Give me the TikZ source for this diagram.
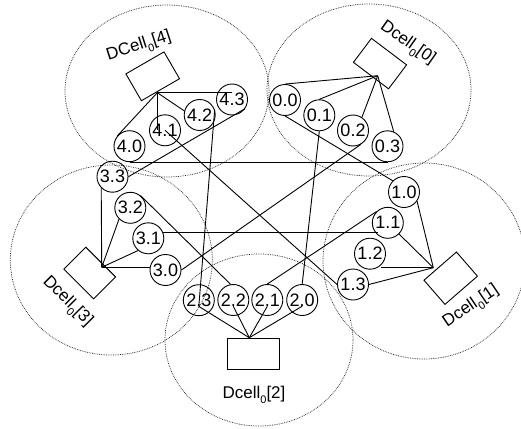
\documentclass[tikz,border=0pt]{standalone}
\usepackage{fontspec}
\setmainfont{Liberation Sans}
\definecolor{cellgray}{RGB}{40, 40, 40}
\newcommand{\cellsub}[1]{\raisebox{-5pt}{\fontsize{11pt}{11pt}\selectfont #1}}

\begin{document}
\begin{tikzpicture}[x=10pt, y=-10pt, line width=0.9pt,
    server/.style={circle, draw, minimum size=31pt, inner sep=0pt, font=\fontsize{18pt}{18pt}\selectfont},
    switchbox/.style={rectangle, draw, inner sep=0pt},
    celltitle/.style={inner sep=0pt, font=\fontsize{17pt}{17pt}\selectfont},
    cellring/.style={cellgray, densely dotted, line width=0.75pt}]
            \useasboundingbox (0.00, 0.00) rectangle (52.10, 42.80);

            % DCell_0 borders
            \draw[cellring] (16.70,  9.10) ellipse (102pt and 86pt);
            \draw[cellring] (36.90,  9.00) ellipse (102pt and 86pt);
            \draw[cellring] (11.13, 26.00) ellipse (101pt and 95pt);
            \draw[cellring] (42.40, 26.10) ellipse (101pt and 98pt);
            \draw[cellring] (25.90, 34.00) ellipse (94pt and 86pt);

            % switches
            \node[switchbox, minimum width=44pt, minimum height=31pt, rotate=30]  (sw4) at (15.27,  7.63) {};
            \node[switchbox, minimum width=44pt, minimum height=30pt, rotate=-37] (sw0) at (38.00,  6.36) {};
            \node[switchbox, minimum width=42pt, minimum height=31pt, rotate=-45] (sw3) at ( 8.97, 27.30) {};
            \node[switchbox, minimum width=43pt, minimum height=32pt, rotate=41]  (sw1) at (45.07, 27.82) {};
            \node[switchbox, minimum width=52pt, minimum height=31pt]             (sw2) at (25.30, 35.35) {};

            \coordinate (hub4) at (15.73,  9.27);
            \coordinate (hub0) at (37.77,  7.57);
            \coordinate (hub3) at (10.17, 26.73);
            \coordinate (hub1) at (43.33, 26.77);
            \coordinate (hub2) at (24.93, 33.77);

            % servers
            \node[server] (n40) at (12.95, 14.62) {4.0};
            \node[server] (n41) at (16.50, 13.03) {4.1};
            \node[server] (n42) at (19.97, 11.50) {4.2};
            \node[server] (n43) at (23.20,  9.95) {4.3};
            \node[server] (n00) at (28.50, 10.00) {0.0};
            \node[server] (n01) at (31.93, 11.53) {0.1};
            \node[server] (n02) at (35.30, 13.05) {0.2};
            \node[server] (n03) at (38.75, 14.63) {0.3};
            \node[server] (n33) at (11.25, 17.67) {3.3};
            \node[server] (n32) at (13.03, 20.78) {3.2};
            \node[server] (n31) at (14.83, 23.83) {3.1};
            \node[server] (n30) at (16.55, 27.00) {3.0};
            \node[server] (n10) at (40.40, 19.20) {1.0};
            \node[server] (n11) at (38.78, 22.28) {1.1};
            \node[server] (n12) at (37.00, 25.37) {1.2};
            \node[server] (n13) at (35.30, 28.45) {1.3};
            \node[server] (n23) at (19.88, 30.02) {2.3};
            \node[server] (n22) at (23.33, 30.00) {2.2};
            \node[server] (n21) at (26.73, 30.00) {2.1};
            \node[server] (n20) at (30.22, 30.00) {2.0};

            \node[celltitle, rotate=18]  (t4) at (13.90,  4.67) {DCell\cellsub{0}[4]};
            \node[celltitle, rotate=-35] (t0) at (40.75,  4.33) {Dcell\cellsub{0}[0]};
            \node[celltitle, rotate=-45] (t3) at ( 6.72, 30.17) {Dcell\cellsub{0}[3]};
            \node[celltitle, rotate=34]  (t1) at (47.12, 30.67) {Dcell\cellsub{0}[1]};
            \node[celltitle]             (t2) at (25.40, 39.45) {Dcell\cellsub{0}[2]};

            % switch to server links
            \draw (hub4) -- (n40.140);
            \draw (hub4) -- (hub4 |- n41);
            \draw (hub4) -- (n42.165);
            \draw (hub4) -- (hub4 -| n43);
            \draw (hub0) -- (n00.north);
            \draw (hub0) -- (n01.north);
            \draw (hub0) -- (n02.56);
            \draw (hub0) -- (n03.67);
            \draw (hub3) -- (n33.south west);
            \draw (hub3) -- (n32.south west);
            \draw (hub3) -- (n31.230);
            \draw (hub3) -- (hub3 -| n30.west);
            \draw (hub1) -- (n10.-35);
            \draw (hub1) -- (n11.south east);
            \draw (hub1) -- (hub1 -| n12.south east);
            \draw (hub1) -- (n13.east);
            \draw (hub2) -- (n23.base);
            \draw (hub2) -- (n22.base);
            \draw (hub2) -- (n21.base);
            \draw (hub2) -- (n20.base);

            % server to server links between cells
            \draw (n00.south) -- (n10.north west);
            \draw (n01.south) -- (n20.north);
            \draw (n02.-60)   -- (n30.east);
            \draw (n40.south) -- (n40.south -| n03.south);
            \draw (n11.135)   -- (n21.north);
            \draw (n31.20)    -- (n31.20 -| n12.60);
            \draw (n41.center) -- (n13.west);
            \draw (n32.50)    -- (n22.100);
            \draw (n42.20)    -- (n23.base);
            \draw (n43.-35)   -- (n33.east);
\end{tikzpicture}
\end{document}
